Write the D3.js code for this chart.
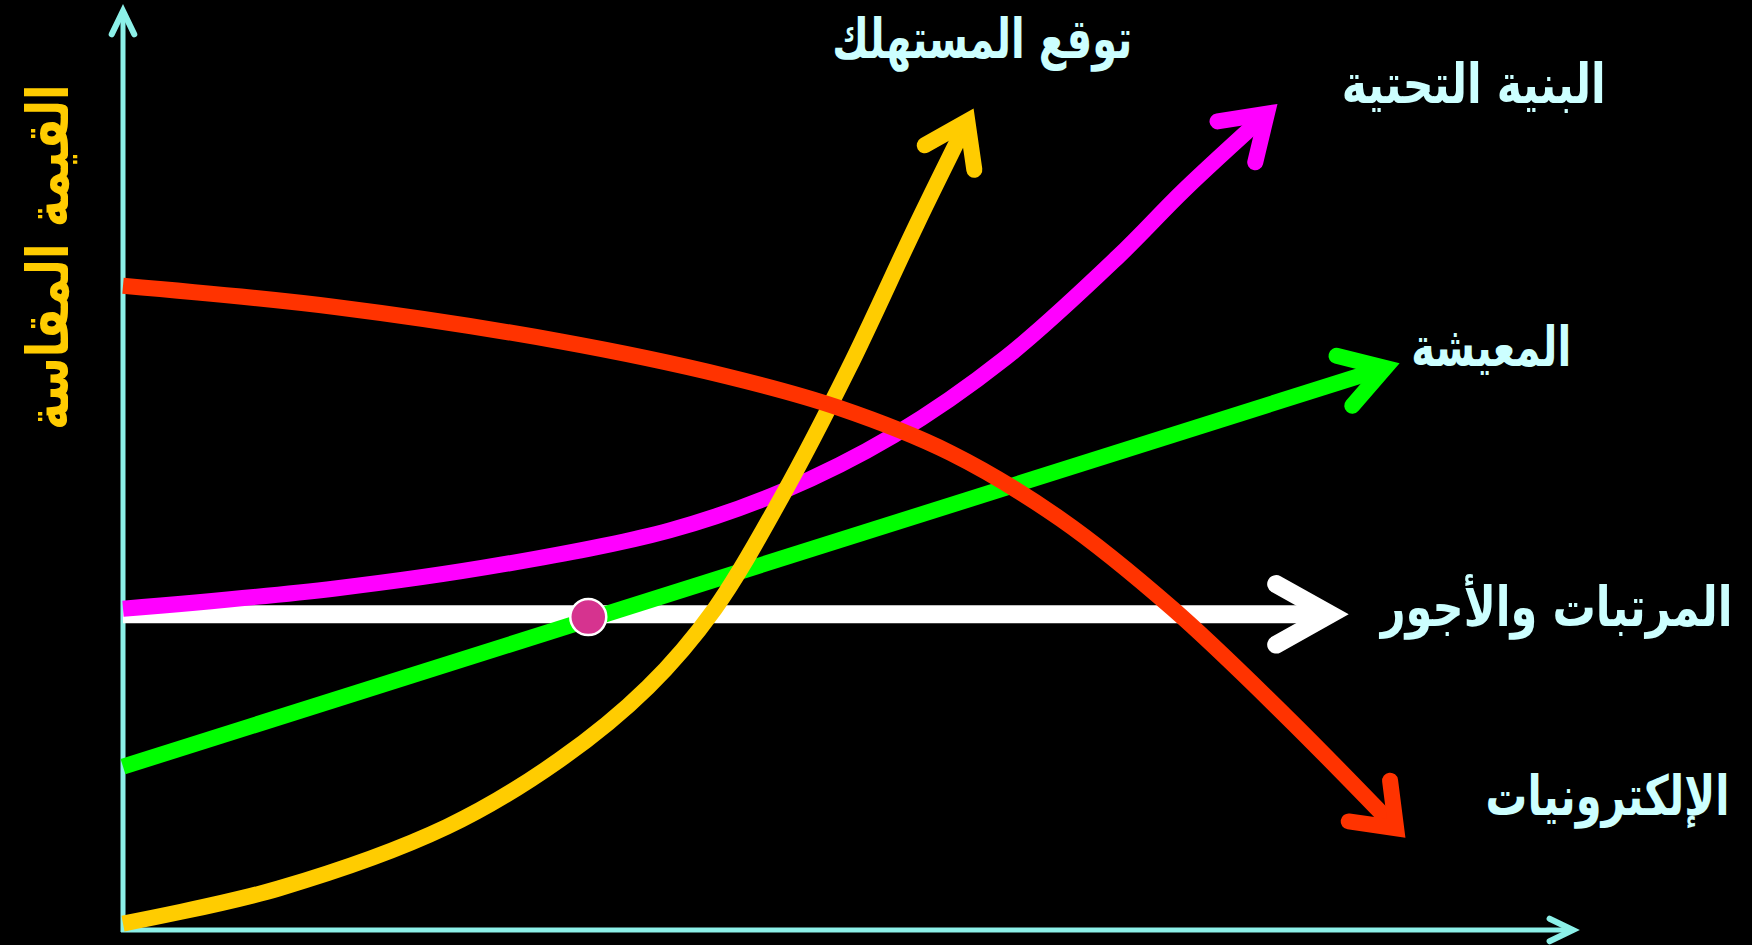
<!DOCTYPE html>
<html>
<head>
<meta charset="utf-8">
<script src="https://cdnjs.cloudflare.com/ajax/libs/d3/7.8.5/d3.min.js"></script>
<style>
  html, body { margin: 0; padding: 0; background: #000; overflow: hidden; }
  svg { display: block; }
  .label { font-family: "DejaVu Sans", sans-serif; font-weight: bold; }
</style>
</head>
<body>
<svg id="chart"></svg>
<script>
// values, x and y both on a 0..100 scale
var wages = [[0, 34.2], [84.3, 34.2]];
var living = [[0, 17.7], [87.8, 61.4]];
var infrastructure = [[0, 34.8], [14.6, 37.0], [26.1, 39.6], [37.6, 43.3], [45.3, 47.5], [53.0, 53.6], [60.7, 62.0], [68.4, 72.9], [73.0, 80.2], [79.4, 89.5]];
var electronics = [[0, 69.8], [14.6, 67.5], [30.0, 63.8], [41.5, 60.0], [49.2, 56.6], [56.9, 51.7], [64.5, 44.5], [72.2, 34.8], [79.9, 23.3], [88.2, 10.0]];
var consumer = [[0, 0.7], [10.7, 4.5], [22.3, 11.2], [30.0, 18.4], [36.1, 26.3], [40.7, 34.8], [45.3, 46.9], [49.9, 60.8], [54.6, 76.5], [58.5, 89.0]];
var meetPoint = [32.0, 33.9];

var seriesNames = ["المرتبات والأجور", "المعيشة", "البنية التحتية", "الإلكترونيات", "توقع المستهلك"];
var yTitle = "القيمة المقاسة";

var width = 1752, height = 945;
var svg = d3.select('#chart').attr('width', width).attr('height', height);
svg.append('rect').attr('width', width).attr('height', height).attr('fill', '#000');

var x = d3.scaleLinear().domain([0, 100]).range([123, 1577]);
var y = d3.scaleLinear().domain([0, 100]).range([930, 7]);

var axisColor = '#8cf0e8';

// open chevron ending at tip, ang is the direction back along the line
function arrowHead(tip, ang, len, half) {
  var a1 = [tip[0] + len * Math.cos(ang + half), tip[1] + len * Math.sin(ang + half)];
  var a2 = [tip[0] + len * Math.cos(ang - half), tip[1] + len * Math.sin(ang - half)];
  return 'M' + a1 + 'L' + tip + 'L' + a2;
}

// axes
var axes = svg.append('g');
axes.append('line')
  .attr('x1', x(0)).attr('x2', x(0)).attr('y1', y(0) + 2).attr('y2', y(100) + 4)
  .attr('stroke', axisColor).attr('stroke-width', 5);
axes.append('line')
  .attr('x1', x(0) - 2).attr('x2', x(100) - 4).attr('y1', y(0)).attr('y2', y(0))
  .attr('stroke', axisColor).attr('stroke-width', 5);
axes.append('path')
  .attr('d', arrowHead([x(0), y(100) + 4], Math.PI / 2, 26, 0.45))
  .attr('fill', 'none').attr('stroke', axisColor).attr('stroke-width', 6)
  .attr('stroke-linecap', 'round').attr('stroke-linejoin', 'miter');
axes.append('path')
  .attr('d', arrowHead([x(100) - 4, y(0)], Math.PI, 26, 0.45))
  .attr('fill', 'none').attr('stroke', axisColor).attr('stroke-width', 6)
  .attr('stroke-linecap', 'round').attr('stroke-linejoin', 'miter');

// series, drawn bottom to top
var series = [
  {data: wages, color: '#ffffff', w: 18, len: 62, half: 0.51},
  {data: living, color: '#00ff00', w: 16, len: 50, half: 0.55},
  {data: infrastructure, color: '#ff00ff', w: 16, len: 50, half: 0.59},
  {data: consumer, color: '#ffcc00', w: 16, len: 49, half: 0.6},
  {data: electronics, color: '#ff3300', w: 16, len: 48, half: 0.65}
];

var line = d3.line()
  .curve(d3.curveCatmullRom.alpha(0.5));

var g = svg.append('g');
series.forEach(function(s) {
  var pts = s.data.map(function(d) { return [x(d[0]), y(d[1])]; });
  var n = pts.length;
  var p0 = pts[n - 2], p1 = pts[n - 1];
  var ang = Math.atan2(p0[1] - p1[1], p0[0] - p1[0]);
  // the outer miter point sits on the last value, so pull the stroke tip back
  var inset = s.w / 2 / Math.sin(s.half);
  var tip = [p1[0] + inset * Math.cos(ang), p1[1] + inset * Math.sin(ang)];
  pts[n - 1] = tip;
  g.append('path')
    .attr('d', line(pts))
    .attr('fill', 'none')
    .attr('stroke', s.color)
    .attr('stroke-width', s.w);
  g.append('path')
    .attr('d', arrowHead(tip, ang, s.len, s.half))
    .attr('fill', 'none')
    .attr('stroke', s.color)
    .attr('stroke-width', s.w)
    .attr('stroke-linecap', 'round')
    .attr('stroke-linejoin', 'miter')
    .attr('stroke-miterlimit', 10);
});

// the meeting point of wages and living
svg.append('circle')
  .attr('cx', x(meetPoint[0])).attr('cy', y(meetPoint[1]))
  .attr('r', 18)
  .attr('fill', '#d6338f')
  .attr('stroke', '#ffffff').attr('stroke-width', 2.5);

// series labels: centre x, baseline y (chart units), width in px
var labelPos = [
  {x: 98.6, y: 32.9, len: 352},
  {x: 94.1, y: 61.1, len: 160},
  {x: 92.9, y: 89.6, len: 264},
  {x: 102.1, y: 12.5, len: 244},
  {x: 59.1, y: 94.5, len: 300}
];

svg.selectAll('g.series')
  .data(seriesNames)
  .enter().append('g')
  .attr('class', 'series')
  .each(function(d, i) {
    var gg = d3.select(this);
    var t = gg.append('text')
      .attr('class', 'label')
      .attr('text-anchor', 'middle')
      .attr('font-size', 55)
      .attr('fill', '#ccffff')
      .text(d);
    // squeeze horizontally to the width seen in the picture
    var sx = labelPos[i].len / t.node().getComputedTextLength();
    gg.attr('transform', 'translate(' + x(labelPos[i].x) + ',' + y(labelPos[i].y) + ') scale(' + sx + ',1)');
  });

// y axis title
var yt = svg.append('g');
var ytText = yt.append('text')
  .attr('class', 'label')
  .attr('text-anchor', 'middle')
  .attr('font-size', 58)
  .attr('fill', '#ffcc00')
  .text(yTitle);
var ysx = 346 / ytText.node().getComputedTextLength();
yt.attr('transform', 'translate(68,' + y(72.9) + ') rotate(-90) scale(' + ysx + ',1)');
</script>
</body>
</html>
